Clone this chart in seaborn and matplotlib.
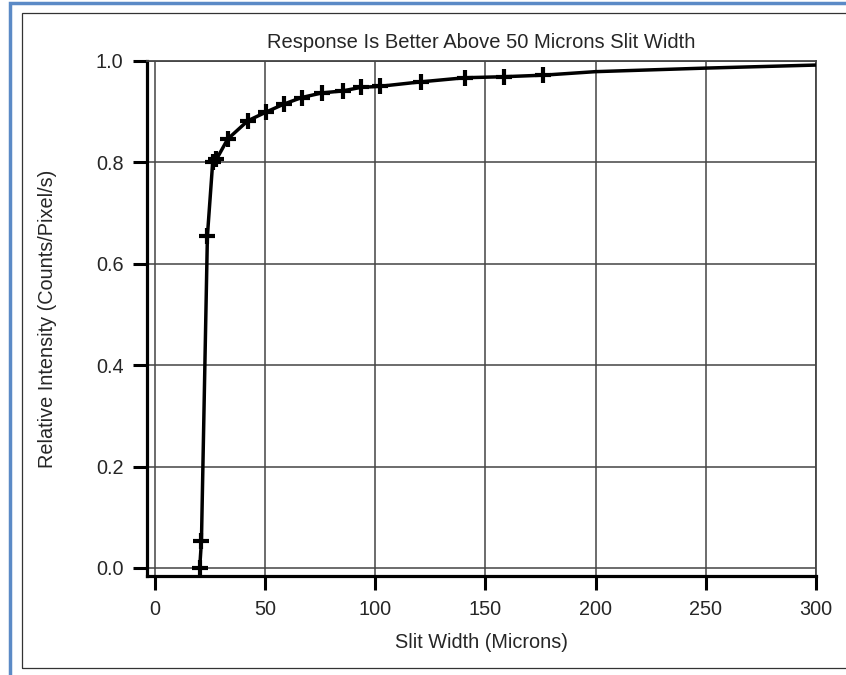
import numpy as np
import pandas as pd
import seaborn as sns
import matplotlib.pyplot as plt
from matplotlib.patches import Rectangle

# measured points (marked with +)
slit_width = [20.4, 21.2, 23.9, 26.3, 28.0, 33.1, 42.2, 50.4, 58.6, 66.7,
              75.8, 85.3, 93.5, 102.0, 121.0, 140.7, 158.4, 176.1]
intensity = [0.0, 0.053, 0.655, 0.800, 0.806, 0.846, 0.882, 0.899, 0.915, 0.928,
             0.937, 0.941, 0.948, 0.950, 0.959, 0.967, 0.969, 0.972]

# unmarked tail of the curve
tail_width = [200.0, 250.0, 300.0]
tail_intensity = [0.979, 0.986, 0.992]

x_ticks = [0, 50, 100, 150, 200, 250, 300]
y_ticks = [0.0, 0.2, 0.4, 0.6, 0.8, 1.0]

sns.set_style("white")
plt.rcParams['font.family'] = ['Liberation Sans', 'DejaVu Sans']

fig = plt.figure(figsize=(8.46, 6.75), dpi=100)

# page frame: blue border and thin inner box
fig.patches.append(Rectangle((10 / 846, -0.1), 1.2, (675 - 3.5) / 675 + 0.1,
                             transform=fig.transFigure, fill=False,
                             edgecolor='#5b8ac6', linewidth=2.5))
fig.patches.append(Rectangle((22 / 846, (675 - 668) / 675), 1.2, (668 - 13) / 675,
                             transform=fig.transFigure, fill=False,
                             edgecolor='#333333', linewidth=0.9))

ax = fig.add_axes([147 / 846, (675 - 576) / 675, (816 - 147) / 846, (576 - 61) / 675])

curve = pd.DataFrame({'x': slit_width + tail_width,
                      'y': intensity + tail_intensity})
pts = pd.DataFrame({'x': slit_width, 'y': intensity})

sns.lineplot(data=curve, x='x', y='y', ax=ax, color='black', linewidth=2.5,
             sort=False, zorder=3)
sns.scatterplot(data=pts, x='x', y='y', ax=ax, marker='+', s=130, color='black',
                linewidth=3.0, zorder=4)

ax.set_xlim(-3.5, 300)
ax.set_ylim(-0.0158, 1.0)
ax.set_xticks(x_ticks)
ax.set_yticks(y_ticks)
ax.set_xticklabels([str(t) for t in x_ticks])
ax.set_yticklabels([f"{t:.1f}" for t in y_ticks])

ax.grid(True, color='#444444', linewidth=1.1)
ax.set_axisbelow(True)

for side in ['left', 'bottom']:
    ax.spines[side].set_linewidth(2.3)
    ax.spines[side].set_color('black')
for side in ['top', 'right']:
    ax.spines[side].set_linewidth(1.3)
    ax.spines[side].set_color('#444444')

ax.tick_params(axis='both', direction='out', length=10, width=2.2, color='black',
               labelsize=14.3, pad=7, left=True, bottom=True)

ax.set_title("Response Is Better Above 50 Microns Slit Width", fontsize=14.5, pad=9)
ax.set_xlabel("Slit Width (Microns)", fontsize=14.3, labelpad=10)
ax.set_ylabel("Relative Intensity (Counts/Pixel/s)", fontsize=14.3, labelpad=28)

fig.savefig("out.png", dpi=100)
